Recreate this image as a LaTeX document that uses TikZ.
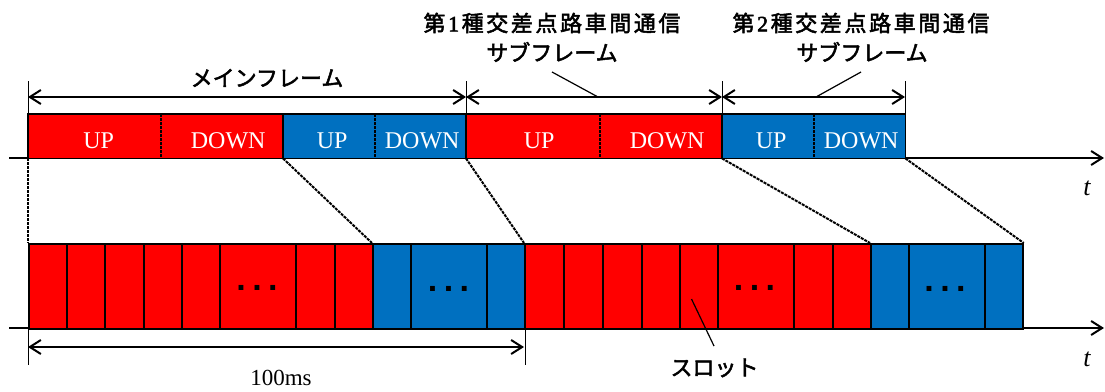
\documentclass[tikz,border=0pt]{standalone}
\usepackage{fontspec}
\setmainfont{Liberation Serif}
\newfontfamily\jp{Noto Sans CJK JP}
\newfontfamily\dotfont{Liberation Sans}
\usetikzlibrary{arrows.meta}
\definecolor{cred}{RGB}{255,0,0}
\definecolor{cblue}{RGB}{0,112,192}
\newcommand{\jk}{\kern2.6pt}
\newcommand{\emb}[1]{\special{pdf:literal 2 Tr 0.5 w}#1\special{pdf:literal 0 Tr}}
\begin{document}
\begin{tikzpicture}[x=1pt,y=-1pt,
  half/.style={fill=#1, inner sep=0pt, minimum height=44pt, text=white,
    font=\fontsize{24}{24}\selectfont, text height=24pt, text depth=0pt, anchor=north west},
  frame/.style={draw=black, line width=1.8pt},
  divider/.style={draw=black, line width=2pt, dash pattern=on 3pt off 1pt},
  slot/.style={fill=#1, draw=black, line width=1.7pt, inner sep=0pt, minimum height=85pt, anchor=north west},
  conn/.style={draw=black, line width=2pt, dash pattern=on 3pt off 1pt},
  axis/.style={draw=black, line width=2pt, -{Straight Barb[length=11pt,width=14pt,line width=2pt]}},
  dim/.style={draw=black, line width=2pt, {Straight Barb[length=11pt,width=14pt,line width=2pt]}-{Straight Barb[length=11pt,width=14pt,line width=2pt]}},
  tick/.style={draw=black, line width=1pt},
  leader/.style={draw=black, line width=1.2pt},
  jplabel/.style={font=\jp\fontsize{22}{26}\selectfont, inner sep=0pt},
  dots/.style={font=\dotfont\bfseries\fontsize{34}{34}\selectfont, inner sep=0pt, anchor=base},
  tlabel/.style={font=\fontsize{26}{26}\selectfont\itshape, inner sep=0pt}]
\useasboundingbox (0,0) rectangle (1105,391);

% axes
\coordinate (ax1s) at (9,158); \coordinate (ax1e) at (1104,158);
\coordinate (ax2s) at (9,328); \coordinate (ax2e) at (1104,328);
\draw[axis] (ax1s) -- (ax1e);
\draw[axis] (ax2s) -- (ax2e);
\node[tlabel] (t1) at (1087,188) {t};
\node[tlabel] (t2) at (1087,359) {t};

% top frame boxes
\node[half=cred,  minimum width=133pt] (mu1) at (28,114)  {\hspace*{8pt}UP};
\node[half=cred,  minimum width=122pt] (md1) at (161,114) {\hspace*{12pt}DOWN};
\node[half=cblue, minimum width=92pt]  (mu2) at (283,114) {\hspace*{6pt}UP};
\node[half=cblue, minimum width=91pt]  (md2) at (375,114) {\hspace*{3pt}DOWN};
\node[half=cred,  minimum width=134pt] (su1) at (466,114) {\hspace*{12pt}UP};
\node[half=cred,  minimum width=122pt] (sd1) at (600,114) {\hspace*{12pt}DOWN};
\node[half=cblue, minimum width=92pt]  (su2) at (722,114) {\hspace*{6pt}UP};
\node[half=cblue, minimum width=91pt]  (sd2) at (814,114) {\hspace*{3pt}DOWN};
\draw[frame] (mu1.north west) rectangle (md1.south east);
\draw[frame] (mu2.north west) rectangle (md2.south east);
\draw[frame] (su1.north west) rectangle (sd1.south east);
\draw[frame] (su2.north west) rectangle (sd2.south east);
\draw[divider] (mu1.north east) -- (mu1.south east);
\draw[divider] (mu2.north east) -- (mu2.south east);
\draw[divider] (su1.north east) -- (su1.south east);
\draw[divider] (su2.north east) -- (su2.south east);

% dimension arrows (top)
\draw[tick] (mu1.north west) -- ++(0,-33);
\draw[tick] (md2.north east) -- ++(0,-33);
\draw[tick] (sd1.north east) -- ++(0,-33);
\draw[tick] (sd2.north east) -- ++(0,-33);
\coordinate (dA) at (28,97); \coordinate (dB) at (466,97);
\coordinate (dC) at (722,97); \coordinate (dD) at (905,97);
\draw[dim] (dA) -- (dB);
\draw[dim] (dB) -- (dC);
\draw[dim] (dC) -- (dD);

% labels top
\node[jplabel] (main) at (267,78) {\emb{メインフレーム}};
\node[jplabel] (sub1a) at (552,23) {\emb{第\jk{\rmfamily 1}\jk 種\jk 交\jk 差\jk 点\jk 路\jk 車\jk 間\jk 通\jk 信}};
\node[jplabel] (sub1b) at (552,52) {\emb{サブフレーム}};
\node[jplabel] (sub2a) at (861,23) {\emb{第\jk{\rmfamily 2}\jk 種\jk 交\jk 差\jk 点\jk 路\jk 車\jk 間\jk 通\jk 信}};
\node[jplabel] (sub2b) at (862,52) {\emb{サブフレーム}};
\coordinate (l1s) at (552,72); \coordinate (l1e) at (598,97);
\coordinate (l2s) at (861,72); \coordinate (l2e) at (816,97);
\draw[leader] (l1s) -- (l1e);
\draw[leader] (l2s) -- (l2e);

% slots
\foreach \n/\l/\w in {a1/28/38,a2/66/38,a3/104/39,a4/143/38,a5/181/38,a6/219/76,a7/295/39,a8/334/38,
                      b1/524/39,b2/563/39,b3/602/39,b4/641/38,b5/679/38,b6/717/76,b7/793/39,b8/832/38}
  \node[slot=cred, minimum width=\w pt] (\n) at (\l,243) {};
\foreach \n/\l/\w in {ab1/372/38,ab2/410/76,ab3/486/38,bb1/870/38,bb2/908/76,bb3/984/38}
  \node[slot=cblue, minimum width=\w pt] (\n) at (\l,243) {};

\node[dots] (d1) at (257,290) {.\kern6.5pt.\kern6.5pt.};
\node[dots] (d2) at (448.5,291) {.\kern6.5pt.\kern6.5pt.};
\node[dots] (d3) at (754.5,290) {.\kern6.5pt.\kern6.5pt.};
\node[dots] (d4) at (945,291) {.\kern6.5pt.\kern6.5pt.};

% dashed connectors
\draw[conn] (mu1.south west) -- (a1.north west);
\draw[conn] (mu2.south west) -- (ab1.north west);
\draw[conn] (su1.south west) -- (b1.north west);
\draw[conn] (su2.south west) -- (bb1.north west);
\draw[conn] (sd2.south east) -- (bb3.north east);

% bottom dimension
\draw[tick] (a1.south west) -- ++(0,35);
\draw[tick] (ab3.south east) -- ++(0,35);
\coordinate (dE) at (28,347); \coordinate (dF) at (524,347);
\draw[dim] (dE) -- (dF);
\node[font=\fontsize{23}{23}\selectfont, inner sep=0pt] (ms) at (281,378) {100ms};

% slot label
\coordinate (sl) at (691.5,299);
\node[jplabel] (slot) at (714.5,368) {\emb{スロット}};
\coordinate (sle) at (714,346);
\draw[leader] (sl) -- (sle);
\end{tikzpicture}
\end{document}
